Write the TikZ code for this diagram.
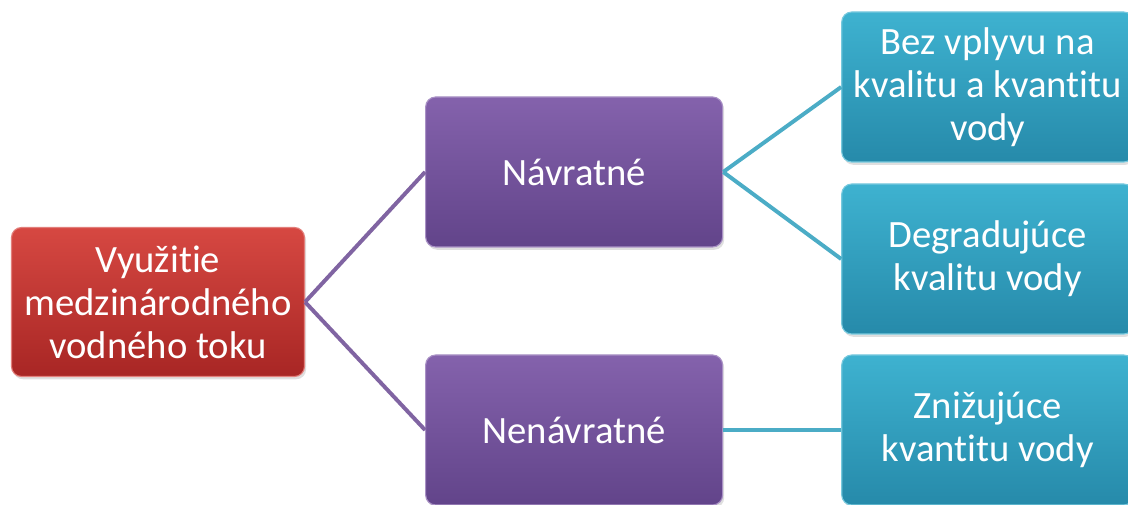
\documentclass[tikz,border=0pt]{standalone}
\usepackage{fontspec}
\setmainfont{Carlito}[Ligatures=NoCommon]
\usepackage{xcolor}
\usetikzlibrary{positioning,shadows}

\definecolor{rootTop}{RGB}{214,72,66}
\definecolor{rootBot}{RGB}{168,38,36}
\definecolor{midTop}{RGB}{132,98,172}
\definecolor{midBot}{RGB}{98,68,138}
\definecolor{leafTop}{RGB}{62,178,208}
\definecolor{leafBot}{RGB}{38,138,170}
\definecolor{midLine}{RGB}{128,100,162}
\definecolor{leafLine}{RGB}{75,172,198}

\begin{document}
\begin{tikzpicture}[
    box/.style={rectangle, rounded corners=0.25cm, align=center, text=white,
        font=\fontsize{27.5}{30.6}\selectfont, line width=0.8pt,
        drop shadow={opacity=0.25, shadow xshift=0.04cm, shadow yshift=-0.07cm}},
    rootbox/.style={box, top color=rootTop, bottom color=rootBot, draw=rootTop!70!white,
        minimum width=7.325cm, minimum height=3.725cm},
    midbox/.style={box, top color=midTop, bottom color=midBot, draw=midTop!70!white,
        minimum width=7.425cm, minimum height=3.75cm},
    leafbox/.style={box, top color=leafTop, bottom color=leafBot, draw=leafTop!70!white,
        minimum width=7.3cm, minimum height=3.75cm},
    midlink/.style={draw=midLine, line width=2.8pt},
    leaflink/.style={draw=leafLine, line width=2.8pt}
]
\useasboundingbox (0,0) rectangle (28.2,-12.625);

% Root
\node[rootbox] (root) at (3.95,-7.55) {Využitie\\medzinárodného\\vodného toku};

% Second level
\node[midbox, right=3cm of root, yshift=3.25cm] (navrat) {Návratné};
\node[midbox, right=3cm of root, yshift=-3.2cm] (nenavrat) {Nenávratné};

% Third level
\node[leafbox, right=2.95cm of navrat, yshift=2.125cm] (bezvpl) {Bez vplyvu na\\kvalitu a kvantitu\\vody};
\node[leafbox, right=2.95cm of navrat, yshift=-2.175cm] (degrad) {Degradujúce\\kvalitu vody};
\node[leafbox, right=2.95cm of nenavrat] (znizuj) {Znižujúce\\kvantitu vody};

% Links
\draw[midlink] (root.east) -- (navrat.west);
\draw[midlink] (root.east) -- (nenavrat.west);
\draw[leaflink] (navrat.east) -- (bezvpl.west);
\draw[leaflink] (navrat.east) -- (degrad.west);
\draw[leaflink] (nenavrat.east) -- (znizuj.west);

\end{tikzpicture}
\end{document}
